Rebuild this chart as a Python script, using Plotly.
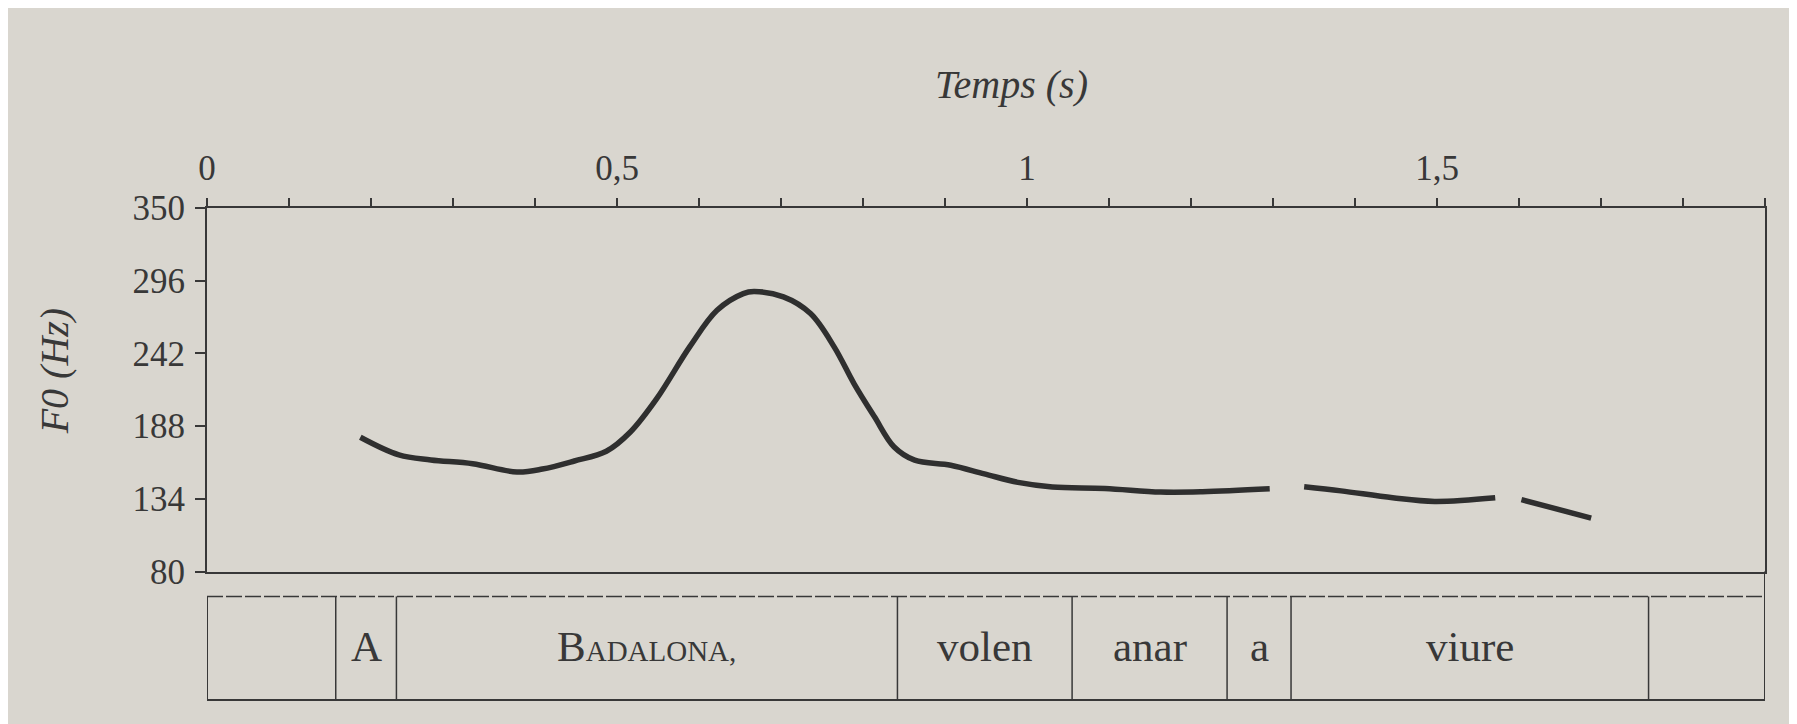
import plotly.graph_objects as go

# ---- data ----
time_s = [0.187, 0.234, 0.273, 0.324, 0.378, 0.409, 0.448, 0.487, 0.516, 0.548,
          0.589, 0.622, 0.654, 0.667, 0.703, 0.736, 0.765, 0.789, 0.814, 0.838,
          0.863, 0.907, 0.948, 0.989, 1.031, 1.095, 1.163, 1.214, 1.296, None,
          1.338, 1.383, 1.446, 1.497, 1.571, None,
          1.603, 1.688]
f0_hz = [179.7, 166.6, 162.9, 160.1, 153.9, 156.1, 162.1, 169.3, 183.4, 208.0,
         247.2, 274.0, 286.4, 287.9, 284.0, 271.6, 246.7, 219.6, 194.9, 172.5,
         162.7, 158.9, 152.5, 146.2, 142.8, 141.7, 139.0, 139.2, 141.4, None,
         143.0, 139.9, 134.8, 132.1, 134.8, None,
         133.4, 119.7]

y_ticks = [80, 134, 188, 242, 296, 350]
x_ticks = [0, 0.5, 1, 1.5]
x_tick_labels = ["0", "0,5", "1", "1,5"]
x_minor = [0.1, 0.2, 0.3, 0.4, 0.6, 0.7, 0.8, 0.9, 1.1, 1.2, 1.3, 1.4, 1.6, 1.7, 1.8, 1.9]

boundaries = [0.157, 0.231, 0.842, 1.055, 1.244, 1.322, 1.758]
words = ["A", "B<span style='font-size:29px'>ADALONA,</span>", "volen", "anar", "a", "viure"]

# ---- layout constants ----
W, H = 1797, 724
L, R, T, B = 199, 40, 200, 30
plot_h = H - T - B
f0_bottom = (H - B - 565) / plot_h
dash_y = (H - B - 590) / plot_h

ink = "#383838"
paper = "#d9d6cf"
font_f = "Liberation Serif"

fig = go.Figure()
fig.add_trace(go.Scatter(
    x=time_s, y=f0_hz, mode="lines", connectgaps=False,
    line=dict(color="#2f2f2f", width=5.5, shape="spline", smoothing=1.0),
    showlegend=False, hoverinfo="skip"))

fig.update_layout(
    width=W, height=H,
    margin=dict(l=L, r=R, t=T, b=B),
    paper_bgcolor=paper, plot_bgcolor=paper,
    font=dict(family=font_f, color=ink),
    xaxis=dict(range=[0, 1.9], side="top", showgrid=False, zeroline=False,
               showline=True, linecolor=ink, linewidth=2, mirror=True,
               ticks="outside", ticklen=8, tickwidth=1.5, tickcolor=ink,
               tickvals=x_ticks, ticktext=x_tick_labels,
               tickfont=dict(family=font_f, size=35, color=ink),
               ticklabelstandoff=4,
               minor=dict(tickvals=x_minor, ticks="outside", ticklen=8,
                          tickwidth=1.5, tickcolor=ink, showgrid=False)),
    yaxis=dict(range=[80, 350], domain=[f0_bottom, 1], showgrid=False,
               zeroline=False, showline=True, linecolor=ink, linewidth=2,
               mirror=True, ticks="outside", ticklen=10, tickwidth=1.5,
               tickcolor=ink, tickvals=y_ticks,
               tickfont=dict(family=font_f, size=35, color=ink),
               ticklabelstandoff=3),
)

shapes = []
# lower panel frame
shapes.append(dict(type="line", xref="x", yref="paper", x0=0, x1=1.9, y0=0, y1=0,
                   line=dict(color=ink, width=2)))
shapes.append(dict(type="line", xref="x", yref="paper", x0=0, x1=1.9, y0=dash_y, y1=dash_y,
                   line=dict(color=ink, width=1.5, dash="16px,3px")))
shapes.append(dict(type="line", xref="x", yref="paper", x0=0, x1=0, y0=0, y1=dash_y,
                   line=dict(color=ink, width=2)))
shapes.append(dict(type="line", xref="x", yref="paper", x0=1.9, x1=1.9, y0=0, y1=f0_bottom,
                   line=dict(color=ink, width=2)))
for b in boundaries:
    shapes.append(dict(type="line", xref="x", yref="paper", x0=b, x1=b, y0=0, y1=dash_y,
                       line=dict(color=ink, width=1.5)))
fig.update_layout(shapes=shapes)

ann = []
word_y = (H - B - 640) / plot_h
for i, w in enumerate(words):
    xm = (boundaries[i] + boundaries[i + 1]) / 2
    ann.append(dict(x=xm, y=word_y, xref="x", yref="paper", text=w, showarrow=False,
                    xanchor="center", yanchor="middle",
                    font=dict(family=font_f, size=43, color=ink)))
ann.append(dict(x=(1003 - L) / (W - L - R), y=(H - B - 76) / plot_h, xref="paper", yref="paper",
                text="<i>Temps (s)</i>", showarrow=False, xanchor="center", yanchor="middle",
                font=dict(family=font_f, size=40, color=ink)))
ann.append(dict(x=(46 - L) / (W - L - R), y=(H - B - 364) / plot_h, xref="paper", yref="paper",
                text="<i>F0 (Hz)</i>", showarrow=False, textangle=-90,
                xanchor="center", yanchor="middle",
                font=dict(family=font_f, size=40, color=ink)))
fig.update_layout(annotations=ann)

fig.write_html("out.html")
